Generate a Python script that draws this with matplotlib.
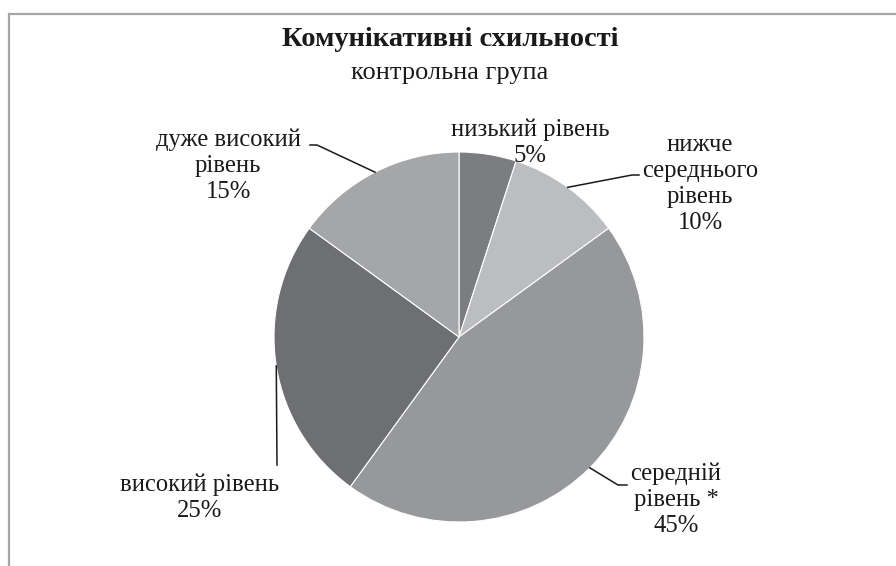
import numpy as np
import matplotlib
matplotlib.use('Agg')
import matplotlib.pyplot as plt
from matplotlib.patches import Rectangle

# Data
labels = ['низький рівень', 'нижче\nсереднього\nрівень', 'середній\nрівень *',
          'високий рівень', 'дуже високий\nрівень']
shares = [5, 10, 45, 25, 15]
colors = ['#7c7d80', '#bcbdbf', '#97989b', '#6e6f72', '#a5a6a8']

W, H = 896, 566

def py(y):
    # pixel row (from top) -> data y
    return H - y

plt.rcParams['font.family'] = ['Liberation Serif', 'DejaVu Serif']
fig = plt.figure(figsize=(W / 100, H / 100), dpi=100)
ax = fig.add_axes([0, 0, 1, 1])

# chart frame (right and bottom fall outside the picture)
ax.add_patch(Rectangle((9, py(14) - 600), 1000, 600, fill=False,
                       edgecolor='#a6a6a6', linewidth=1.6))

cx, cy, r = 459, py(337), 185
wedges, _ = ax.pie(shares, colors=colors, startangle=90, counterclock=False,
                   center=(cx, cy), radius=r, frame=True,
                   wedgeprops=dict(edgecolor='white', linewidth=0.8))
ax.set_xlim(0, W)
ax.set_ylim(0, H)
ax.set_aspect('equal')
ax.axis('off')

txt = '#1a1a1a'
ax.text(450, py(40), 'Комунікативні схильності', ha='center', va='center',
        fontsize=20.5, fontweight='bold', color=txt)
ax.text(450, py(73), 'контрольна група', ha='center', va='center',
        fontsize=19, color=txt)

# label positions (centre of text block) and leader elbows, in pixels
label_pos = [(530, 143), (700, 184), (676, 500), (200, 498), (228, 166)]
elbows = [None, [(632, 175), (639, 175)], [(618, 485), (627, 485)],
          [(277, 465)], [(317, 145), (310, 145)]]

for w, lab, v, (lx, ly), el in zip(wedges, labels, shares, label_pos, elbows):
    ax.text(lx, py(ly), f'{lab}\n{v}%', ha='center', va='center',
            fontsize=17.7, color=txt, linespacing=1.25)
    if el is None:
        continue
    mid = np.deg2rad((w.theta1 + w.theta2) / 2)
    xs = [cx + r * np.cos(mid)] + [p[0] for p in el]
    ys = [cy + r * np.sin(mid)] + [py(p[1]) for p in el]
    ax.plot(xs, ys, color='#1a1a1a', linewidth=1.1)

fig.savefig('out.png', dpi=100)
